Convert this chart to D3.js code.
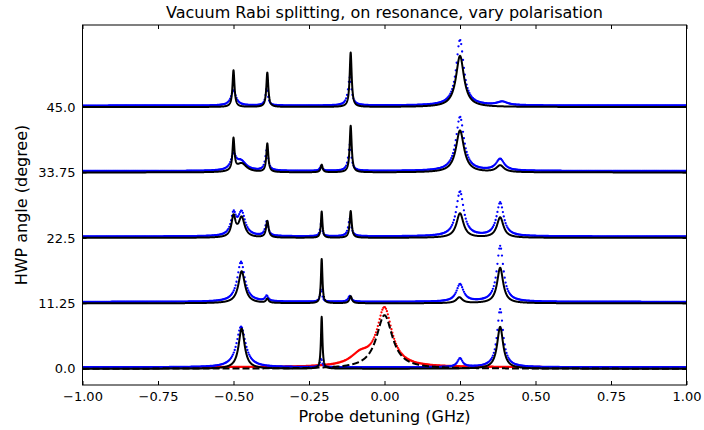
<!DOCTYPE html>
<html>
<head>
<meta charset="utf-8">
<script src="https://cdn.jsdelivr.net/npm/d3@7"></script>
<style>
  html, body { margin: 0; padding: 0; background: #fff; }
  svg { display: block; font-family: "DejaVu Sans", sans-serif; }
</style>
</head>
<body>
<svg id="chart" width="704" height="430"></svg>
<script>
// ---------------- data ----------------
const titleText = "Vacuum Rabi splitting, on resonance, vary polarisation";
const xLabelText = "Probe detuning (GHz)";
const yLabelText = "HWP angle (degree)";

const xTicks = [-1.0, -0.75, -0.5, -0.25, 0.0, 0.25, 0.5, 0.75, 1.0];
const xTickLabels = ["−1.00", "−0.75", "−0.50", "−0.25", "0.00", "0.25", "0.50", "0.75", "1.00"];
const yTicks = [0.0, 11.25, 22.5, 33.75, 45.0];
const yTickLabels = ["0.0", "11.25", "22.5", "33.75", "45.0"];

// HWP angle of each trace (its baseline offset)
const traceAngles = [0.0, 11.25, 22.5, 33.75, 45.0];

// Fitted Lorentzian peaks per trace: centre (GHz), height (deg units), half width (GHz)
const fitCenters = [
  [-0.473, -0.208, 0.383],
  [-0.473, -0.388, -0.208, -0.112, 0.248, 0.383],
  [-0.500, -0.473, -0.388, -0.208, -0.112, 0.250, 0.383],
  [-0.500, -0.473, -0.388, -0.208, -0.112, 0.250, 0.383],
  [-0.500, -0.388, -0.112, 0.250]
];
const fitHeights = [
  [6.9, 8.9, 7.2],
  [5.5, 0.7, 7.6, 1.2, 1.0, 6.1],
  [3.5, 3.4, 2.85, 4.5, 4.6, 4.2, 3.5],
  [5.45, 1.5, 4.9, 1.3, 8.0, 7.2, 1.15],
  [6.3, 5.9, 9.35, 8.8]
];
const fitWidths = [
  [0.012, 0.003, 0.012],
  [0.013, 0.005, 0.003, 0.005, 0.012, 0.012],
  [0.008, 0.012, 0.005, 0.003, 0.004, 0.014, 0.013],
  [0.004, 0.020, 0.004, 0.004, 0.004, 0.016, 0.015],
  [0.004, 0.004, 0.004, 0.016]
];

// Measured (blue) peaks per trace
const dataCenters = [
  [-0.475, -0.210, 0.250, 0.383],
  [-0.475, -0.390, -0.210, -0.115, 0.250, 0.383],
  [-0.500, -0.473, -0.390, -0.210, -0.115, 0.250, 0.383],
  [-0.500, -0.475, -0.390, -0.210, -0.115, 0.250, 0.383],
  [-0.500, -0.390, -0.115, 0.250, 0.390]
];
const dataHeights = [
  [7.0, 1.5, 1.5, 10.0],
  [6.9, 0.9, 2.2, 1.0, 3.0, 9.6],
  [3.6, 4.0, 2.5, 2.2, 3.0, 7.7, 5.8],
  [2.5, 1.6, 3.5, 0.8, 4.5, 9.3, 2.0],
  [2.6, 2.9, 4.8, 11.3, 0.6]
];
const dataWidths = [
  [0.018, 0.004, 0.010, 0.012],
  [0.015, 0.006, 0.004, 0.006, 0.014, 0.013],
  [0.010, 0.014, 0.006, 0.004, 0.006, 0.015, 0.014],
  [0.010, 0.020, 0.006, 0.005, 0.006, 0.016, 0.016],
  [0.010, 0.005, 0.007, 0.015, 0.020]
];
// small offset of measured baseline above the fit baseline (deg units)
const dataBaselineOffset = [0.25, 0.25, 0.25, 0.25, 0.25];

// Red (reference) measurement on the 0.0 trace and its dashed fit
const redFitCenters = [0.0];
const redFitHeights = [9.2];
const redFitWidths = [0.032];
const redDataCenters = [0.0, -0.08];
const redDataHeights = [10.0, 1.8];
const redDataWidths = [0.030, 0.040];

// ---------------- drawing ----------------
const W = 704, H = 430;
const margin = { left: 82.5, right: W - 686.5, top: 25, bottom: H - 385 };
const xDomain = [-1.0, 1.0];
const yDomain = [-2.8, 59.1];

const svg = d3.select("#chart");
const x = d3.scaleLinear().domain(xDomain).range([margin.left, W - margin.right]);
const y = d3.scaleLinear().domain(yDomain).range([H - margin.bottom, margin.top]);

function lorentzSum(xv, centers, heights, widths) {
  let s = 0;
  for (let i = 0; i < centers.length; i++) {
    const d = (xv - centers[i]) / widths[i];
    s += heights[i] / (1 + d * d);
  }
  return s;
}

const fineGrid = d3.range(xDomain[0], xDomain[1] + 1e-9, 0.0005);
const dotGrid = d3.range(xDomain[0], xDomain[1] + 1e-9, 0.003);

svg.append("defs").append("clipPath").attr("id", "clip")
  .append("rect")
  .attr("x", margin.left).attr("y", margin.top)
  .attr("width", W - margin.left - margin.right)
  .attr("height", H - margin.top - margin.bottom);

const plot = svg.append("g").attr("clip-path", "url(#clip)");
const line = d3.line().x(d => x(d[0])).y(d => y(d[1]));

traceAngles.forEach((base, i) => {
  if (i === 0) {
    const rdots = dotGrid.map(xv => [xv, base + dataBaselineOffset[i] +
      lorentzSum(xv, redDataCenters, redDataHeights, redDataWidths)]);
    plot.append("g").selectAll("circle").data(rdots).join("circle")
      .attr("cx", d => x(d[0])).attr("cy", d => y(d[1]))
      .attr("r", 1.15).attr("fill", "#ff0000");
  }

  const dots = dotGrid.map(xv => [xv, base + dataBaselineOffset[i] +
    lorentzSum(xv, dataCenters[i], dataHeights[i], dataWidths[i])]);
  plot.append("g").selectAll("circle").data(dots).join("circle")
    .attr("cx", d => x(d[0])).attr("cy", d => y(d[1]))
    .attr("r", 1.15).attr("fill", "#0000ff");

  const fit = fineGrid.map(xv => [xv, base + lorentzSum(xv, fitCenters[i], fitHeights[i], fitWidths[i])]);
  plot.append("path").datum(fit)
    .attr("d", line).attr("fill", "none")
    .attr("stroke", "#000").attr("stroke-width", 2).attr("stroke-linejoin", "round");

  if (i === 0) {
    const rfit = fineGrid.map(xv => [xv, base + lorentzSum(xv, redFitCenters, redFitHeights, redFitWidths)]);
    plot.append("path").datum(rfit)
      .attr("d", line).attr("fill", "none")
      .attr("stroke", "#000").attr("stroke-width", 2)
      .attr("stroke-dasharray", "7,3");
  }
});

// frame
svg.append("rect")
  .attr("x", margin.left).attr("y", margin.top)
  .attr("width", W - margin.left - margin.right)
  .attr("height", H - margin.top - margin.bottom)
  .attr("fill", "none").attr("stroke", "#000").attr("stroke-width", 1);

// axes (ticks pointing inward)
const xAxis = d3.axisBottom(x).tickValues(xTicks)
  .tickFormat((d, i) => xTickLabels[i]).tickSizeInner(-4).tickSizeOuter(0).tickPadding(7);
const gx = svg.append("g").attr("transform", `translate(0,${H - margin.bottom})`).call(xAxis);
const xAxisTop = d3.axisTop(x).tickValues(xTicks).tickFormat("").tickSizeInner(-4).tickSizeOuter(0);
const gxt = svg.append("g").attr("transform", `translate(0,${margin.top})`).call(xAxisTop);

const yAxis = d3.axisLeft(y).tickValues(yTicks)
  .tickFormat((d, i) => yTickLabels[i]).tickSizeInner(-4).tickSizeOuter(0).tickPadding(7);
const gy = svg.append("g").attr("transform", `translate(${margin.left},0)`).call(yAxis);
const yAxisRight = d3.axisRight(y).tickValues(yTicks).tickFormat("").tickSizeInner(-4).tickSizeOuter(0);
const gyr = svg.append("g").attr("transform", `translate(${W - margin.right},0)`).call(yAxisRight);

[gx, gxt, gy, gyr].forEach(g => {
  g.select(".domain").remove();
  g.selectAll("text").attr("font-family", "DejaVu Sans, sans-serif").attr("font-size", 13).attr("fill", "#000");
  g.selectAll("line").attr("stroke", "#000");
});

// title and labels
svg.append("text").attr("x", (margin.left + W - margin.right) / 2).attr("y", 18)
  .attr("text-anchor", "middle").attr("font-size", 16).text(titleText);
svg.append("text").attr("x", (margin.left + W - margin.right) / 2).attr("y", 422)
  .attr("text-anchor", "middle").attr("font-size", 16).text(xLabelText);
svg.append("text")
  .attr("transform", `translate(27,${(margin.top + H - margin.bottom) / 2}) rotate(-90)`)
  .attr("text-anchor", "middle").attr("font-size", 16).text(yLabelText);
</script>
</body>
</html>
